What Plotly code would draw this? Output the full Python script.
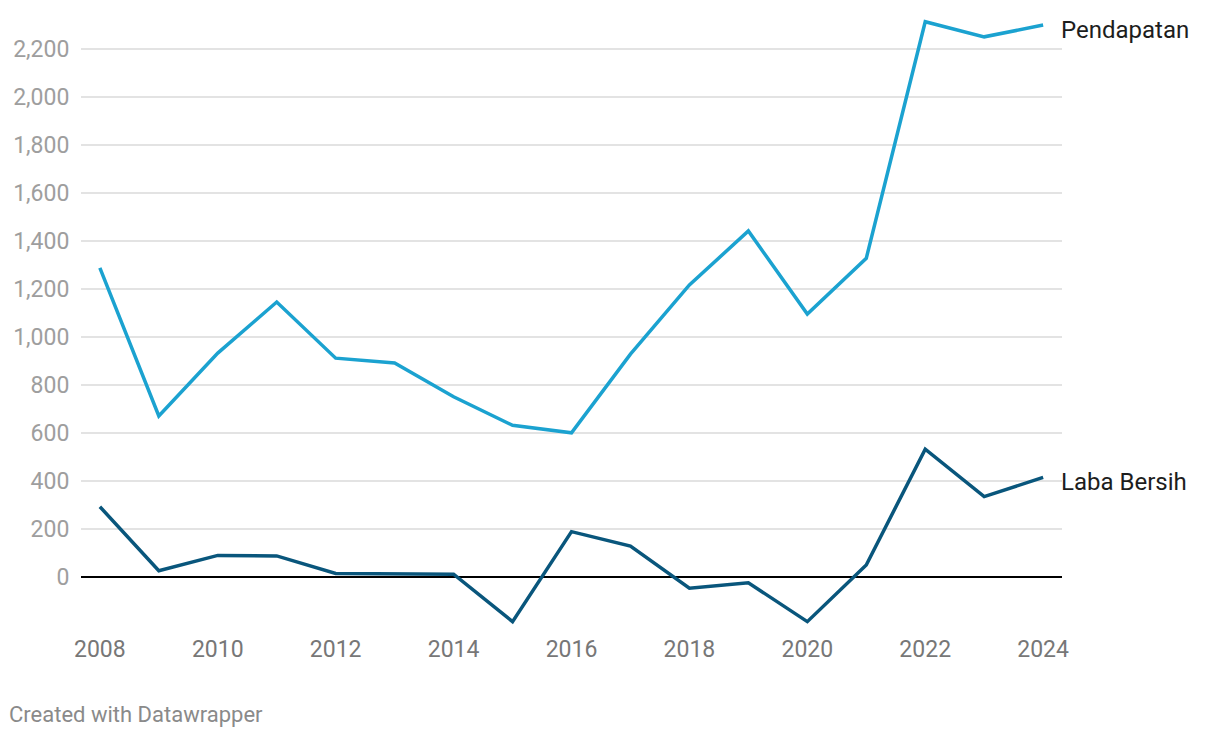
import plotly.graph_objects as go

years = list(range(2008, 2025))
pendapatan = [1288, 671, 933, 1146, 912, 892, 751, 632, 601, 929, 1217, 1442, 1096, 1328, 2314, 2251, 2300]
laba_bersih = [293, 26, 90, 88, 15, 15, 12, -186, 189, 129, -47, -24, -186, 50, 533, 335, 415]
series_names = ["Pendapatan", "Laba Bersih"]
y_ticks = list(range(0, 2201, 200))
x_ticks = list(range(2008, 2025, 2))

c_pend = "#1ba2d0"
c_laba = "#09567c"

fig = go.Figure()
fig.add_trace(go.Scatter(x=years, y=pendapatan, mode="lines", name=series_names[0],
                         line=dict(color=c_pend, width=3.5), hoverinfo="x+y"))
fig.add_trace(go.Scatter(x=years, y=laba_bersih, mode="lines", name=series_names[1],
                         line=dict(color=c_laba, width=3.5), hoverinfo="x+y"))

for name, vals in zip(series_names, [pendapatan, laba_bersih]):
    fig.add_annotation(x=1.0, xref="paper", y=vals[-1], yref="y", text=name,
                       showarrow=False, xanchor="left", yanchor="middle", xshift=-3,
                       yshift=-5,
                       font=dict(family="Roboto", size=24, color="#1d1d1d"))

# page body has an 8px margin: figure is 1212x730 placed at (8, 8)
fig.add_annotation(x=(2 - 73) / 981, xref="paper", y=-(706 - 617) / 610, yref="paper",
                   text="Created with Datawrapper", showarrow=False,
                   xanchor="left", yanchor="middle", xshift=-3,
                   font=dict(family="Roboto", size=22, color="#8a8a8a"))

fig.update_layout(
    width=1212, height=730,
    margin=dict(l=73, r=158, t=7, b=113),
    paper_bgcolor="white", plot_bgcolor="white",
    showlegend=False,
    font=dict(family="Roboto"),
    xaxis=dict(range=[2007.68, 2024.32], tickvals=x_ticks, showgrid=False, zeroline=False,
               showline=False, ticks="outside", ticklen=3, tickcolor="rgba(0,0,0,0)",
               automargin=False,
               tickfont=dict(family="Roboto", size=23, color="#777777")),
    yaxis=dict(range=[-200, 2342], tickvals=y_ticks, tickformat=",", showgrid=True,
               gridcolor="#e3e3e3", gridwidth=1.5, zeroline=True, zerolinecolor="#000000",
               zerolinewidth=1.5, showline=False, ticks="outside", ticklen=6,
               tickcolor="rgba(0,0,0,0)", automargin=False,
               tickfont=dict(family="Roboto", size=23, color="#9e9e9e")),
)

fig.write_html("out.html", config={"displayModeBar": False})
